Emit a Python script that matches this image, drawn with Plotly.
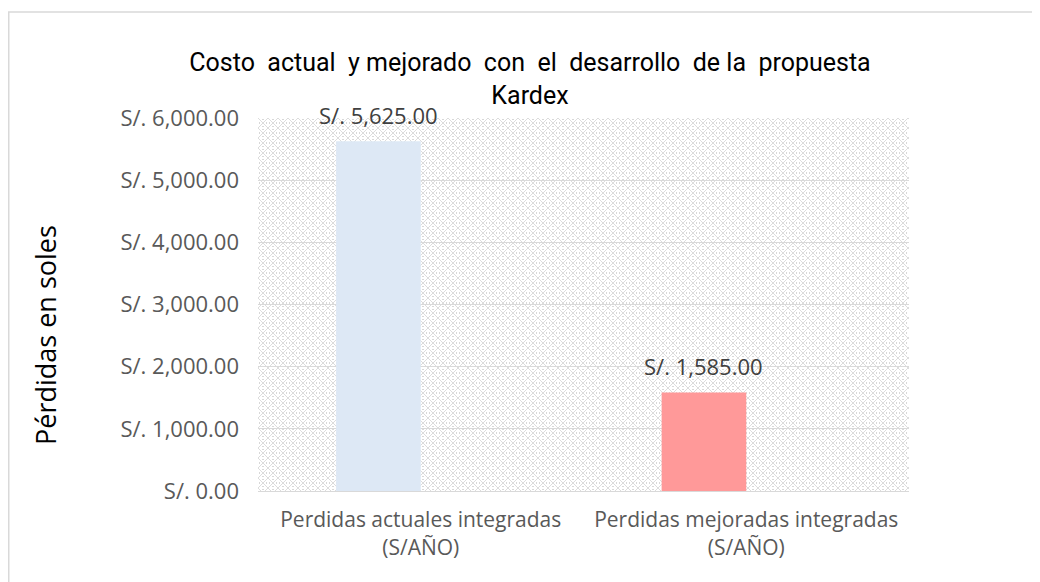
import base64
import plotly.graph_objects as go

categories = ["Perdidas actuales integradas<br>(S/AÑO)", "Perdidas mejoradas integradas<br>(S/AÑO)"]
values = [5625, 1585]
bar_colors = ["#dde8f5", "#ff9999"]
title_text = "Costo  actual  y mejorado  con  el  desarrollo  de la  propuesta<br>Kardex"
y_title = "Pérdidas en soles"

W, H = 1040, 582
OFF = 8  # page body margin
L, R, T, B = 258 - OFF, 131 + OFF, 118 - OFF, 91 + OFF
pw, ph = W - L - R, H - T - B
FONT = "Open Sans, Liberation Sans, sans-serif"
BAR_W = 0.26

svg = f'''<svg xmlns="http://www.w3.org/2000/svg" width="{pw}" height="{ph}" viewBox="0 0 {pw} {ph}" preserveAspectRatio="none">
<defs><pattern id="p" width="10" height="10" patternUnits="userSpaceOnUse">
<rect width="10" height="10" fill="#ffffff"/>
<path d="M0,0 L10,10 M10,0 L0,10" stroke="#dcdcdc" stroke-width="1"/>
<rect x="4" y="1" width="2" height="1" fill="#d8d8d8"/>
<rect x="4" y="8" width="2" height="1" fill="#d8d8d8"/>
<rect x="1" y="4" width="1" height="2" fill="#d8d8d8"/>
<rect x="8" y="4" width="1" height="2" fill="#d8d8d8"/>
</pattern></defs>
<rect width="{pw}" height="{ph}" fill="url(#p)"/>
</svg>'''
src = "data:image/svg+xml;base64," + base64.b64encode(svg.encode()).decode()

fig = go.Figure()
fig.add_trace(go.Bar(
    x=categories, y=values,
    marker=dict(color=bar_colors, line=dict(width=0)),
    width=BAR_W, offset=-BAR_W,
))

labels = [dict(text=f"S/. {v:,.2f}", xref="x", yref="y", x=i - BAR_W / 2, y=v,
               xanchor="center", yanchor="middle", yshift=26, showarrow=False,
               font=dict(family=FONT, size=22, color="#404040"))
          for i, v in enumerate(values)]

fig.update_layout(
    width=W, height=H,
    margin=dict(l=L, r=R, t=T, b=B, autoexpand=False),
    paper_bgcolor="white",
    plot_bgcolor="rgba(0,0,0,0)",
    showlegend=False,
    title=dict(text=title_text, xref="container", x=(530 - OFF) / W, xanchor="center",
               yref="container", y=1 - 63 / H, yanchor="top",
               font=dict(family="Roboto, sans-serif", size=25, color="black")),
    images=[dict(source=src, xref="paper", yref="paper", x=0, y=1, sizex=1, sizey=1,
                 sizing="stretch", xanchor="left", yanchor="top", layer="below")],
    shapes=[dict(type="rect", xref="paper", yref="paper",
                 x0=(0.75 - L) / pw, x1=(W + 10 - L) / pw,
                 y0=-(H + 10 - (H - B)) / ph, y1=(H - B - (12 - OFF)) / ph,
                 line=dict(color="#d9d9d9", width=1.5), fillcolor="rgba(0,0,0,0)", layer="below")],
    annotations=labels + [dict(text=y_title, xref="paper", yref="paper", x=(45 - OFF - L) / pw,
                               y=(491 - 335) / 373,
                               xanchor="center", yanchor="middle", textangle=-90, showarrow=False,
                               font=dict(family=FONT, size=27, color="black"))],
)
fig.update_yaxes(range=[0, 6000], dtick=1000, tickprefix="S/. ", tickformat=",.2f",
                 showgrid=True, gridcolor="#d9d9d9", gridwidth=1, zeroline=False,
                 ticks="", ticklen=0, showline=False, automargin=False,
                 ticklabelstandoff=18,
                 tickfont=dict(family=FONT, size=22, color="#595959"))
fig.update_xaxes(showline=True, linecolor="#d9d9d9", linewidth=1, ticks="", automargin=False,
                 ticklabelstandoff=10,
                 tickfont=dict(family=FONT, size=21, color="#595959"))

fig.write_html("out.html")
